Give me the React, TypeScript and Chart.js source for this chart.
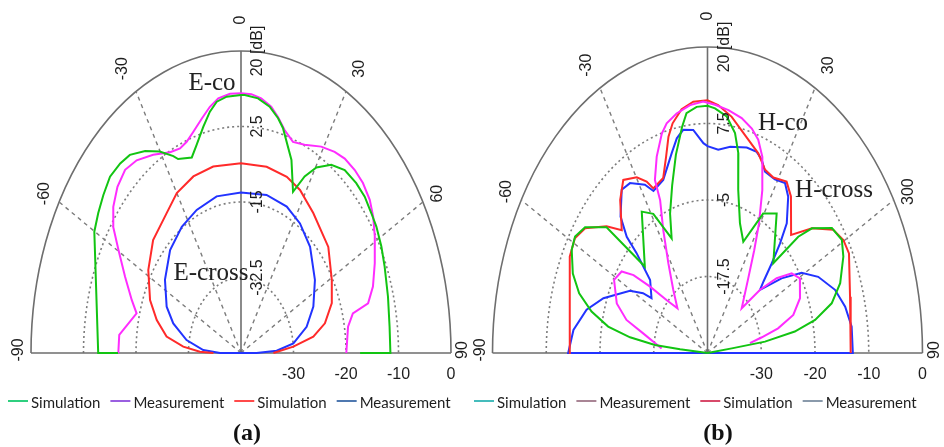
import React, { useEffect, useRef } from "react";
import { Chart, registerables } from "chart.js";

Chart.register(...registerables);

// ---------------- Panel (a): E-plane (angle in degrees, level in dB) ----------------
const aSimCoAngles = [-90, -90, -60.1, -55.7, -51.4, -46.9, -42.5, -38.9, -34.3, -30.1, -26.3, -25.0, -19.9, -17.0, -13.5, -10.5, -7.9, -4.6, 0, 1.2, 5.5, 9.5, 12.8, 15.0, 20.6, 24.9, 27.4, 30.3, 34.6, 39.2, 44.3, 48.7, 53.3, 57.0, 62.2, 67.3, 75.1, 83.0, 90, 90];
const aSimCoDb = [-9, -2.4, 6.4, 7.6, 8.7, 9.8, 9.6, 9.0, 6.7, 4.0, 0.9, -0.4, -1.8, 0.5, 3.9, 6.9, 8.8, 9.6, 9.8, 9.8, 9.3, 7.9, 5.8, 4.0, -2.2, -8.8, -3.9, -0.2, 3.0, 4.7, 5.0, 4.9, 4.2, 3.8, 2.9, 1.9, 0.7, -0.1, -0.2, -10.3];

const aMeasCoAngles = [-90, -84.1, -75.2, -71.4, -65.4, -59.7, -55.5, -51.5, -46.9, -42.3, -37.9, -32.5, -26.9, -23.2, -20.3, -17.2, -13.5, -10.3, -7.3, -3.5, 0, 3.3, 6.5, 10.0, 12.7, 15.7, 19.5, 23.7, 29.2, 33.8, 37.5, 41.8, 45.9, 50.4, 54.4, 58.9, 65.0, 70.7, 74.8, 76.2, 80.3, 90];
const aMeasCoDb = [-9.1, -9.2, -14.0, -11.6, -7.5, -2.7, 1.7, 4.4, 6.4, 7.4, 6.6, 4.5, 2.2, 1.6, 2.2, 3.7, 5.9, 8.0, 9.5, 10.2, 10.2, 10.1, 9.4, 8.0, 6.1, 3.7, 1.9, 2.7, 4.8, 6.1, 6.8, 6.9, 6.6, 5.7, 4.2, 2.1, -0.8, -3.4, -6.1, -11.6, -13.8, -14.9];

const aSimCrossAngles = [-90, -88.7, -85.6, -81.3, -74.8, -68.0, -58.1, -48.2, -37.4, -30.0, -21.2, -12.1, 0, 11.2, 20.5, 27.5, 36.6, 49.8, 60.7, 69.1, 76.2, 81.1, 85.2, 90];
const aSimCrossDb = [-40.8, -36.3, -30.7, -24.9, -20.9, -17.3, -13.6, -10.7, -9.2, -7.2, -6.1, -5.8, -6.0, -6.0, -6.4, -7.4, -9.6, -11.9, -15.3, -17.6, -21.2, -25.6, -32.5, -39.2];

const aMeasCrossAngles = [-90, -90, -86.9, -80.6, -73.1, -66.6, -56.2, -44.7, -34.0, -24.0, -12.6, 0, 13.1, 24.2, 33.2, 43.1, 55.5, 66.0, 74.5, 82.7, 87.4, 90, 90];
const aMeasCrossDb = [-50, -43, -37.4, -31.6, -26.4, -23.0, -19.5, -16.4, -14.7, -13.7, -12.8, -12.8, -12.4, -12.8, -14.1, -16.3, -20.1, -23.6, -27.3, -32.4, -38.1, -44.8, -50];

const aRadialMin = -50;
const aRingValues = [20, 2.5, -15, -32.5];
const aRingLabels = ["20 [dB]", "2.5", "-15", "-32.5"];
const aAngleTicks = [-90, -60, -30, 0, 30, 60, 90];
const aAngleLabels = ["-90", "-60", "-30", "0", "30", "60", "90"];

// ---------------- Panel (b): H-plane ----------------
const bSimCoAngles = [-90, -63.8, -58.7, -54.4, -48.6, -44.8, -39.1, -34.7, -29.8, -26.8, -25.1, -19.8, -16.7, -14.4, -12.2, -8.6, -4.6, 0, 3.5, 8.3, 15.3, 19.9, 24.1, 28.1, 33.3, 37.2, 45.2, 50.0, 55.4, 59.7, 63.7, 74.5, 90];
const bSimCoDb = [2.2, 5.7, 6.1, 5.0, 1.3, -1.7, 2.2, 4.4, 3.1, 1.4, -0.3, 0.4, 3.5, 6.5, 8.4, 10.3, 11.2, 11.3, 10.6, 9.0, 6.1, 4.7, 2.8, 2.5, 3.5, 2.1, -2.6, 1.7, 5.5, 6.6, 6.7, 4.4, 3.3];

const bMeasCoAngles = [-86.0, -77.9, -74.0, -69.0, -61.2, -56.3, -53.5, -50.9, -47.7, -43.8, -37.7, -31.9, -27.1, -23.8, -23.4, -20.2, -16.5, -14.2, -10.4, -5.7, -1.4, 2.5, 7.0, 11.7, 15.7, 18.7, 21.7, 25.6, 29.5, 32.9, 37.9, 47.4, 49.8, 52.8, 56.4, 60.4, 67.4, 72.7, 76.2, 78.5, 80.8];
const bMeasCoDb = [-19.3, -14.7, -10.4, -7.4, -5.2, -6.0, -8.6, -12.8, -17.2, -19.9, -17.0, -12.8, -7.4, -2.7, 0.8, 4.2, 7.4, 8.7, 9.8, 10.7, 11.1, 10.6, 10.0, 9.2, 8.1, 6.8, 4.5, -0.5, -5.7, -10.0, -14.6, -19.2, -14.0, -9.8, -6.5, -5.3, -6.7, -9.1, -13.1, -17.1, -20.0];

const bSimCrossAngles = [-90, -84.6, -83.9, -81.9, -79.4, -75.9, -71.9, -67.5, -61.9, -58.3, -54.2, -48.8, -45.9, -33.5, -29.0, -24.0, -20.9, -16.7, -12.8, -9.1, -7.1, -3.6, 0, 2.5, 6.6, 10.1, 12.4, 15.0, 19.6, 24.6, 29.6, 35.2, 46.2, 48.0, 50.0, 54.8, 59.4, 63.5, 69.7, 74.3, 77.8, 80.2, 82.1, 82.4, 90];
const bSimCrossDb = [-30, -23.6, -17.7, -11.8, -6.5, -2.2, 1.4, 3.9, 5.8, 6.2, 5.1, 1.2, -9.7, -2.3, -4.0, -9.5, -5.6, -1.4, 3.2, 7.4, 9.5, 10.3, 10.4, 10.0, 8.9, 6.5, 3.4, -2.4, -7.5, -10.0, -3.8, -2.1, -8.8, -1.6, 1.7, 5.4, 6.3, 5.3, 2.9, 0.0, -4.4, -9.4, -16.5, -24.3, -30];

const bMeasCrossAngles = [-90, -90, -83.1, -75.9, -69.7, -60.6, -56.9, -55.5, -48.2, -45.3, -44.7, -42.2, -36.8, -33.0, -27.9, -25.4, -20.0, -14.3, -11.5, -8.8, -5.2, -1.6, 0, 4.3, 8.9, 15.2, 19.2, 21.8, 24.3, 28.9, 33.0, 36.3, 41.0, 43.3, 45.6, 48.1, 49.8, 54.7, 59.1, 64.2, 70.8, 76.7, 82.7, 90, 90];
const bMeasCrossDb = [-30, 2.4, 1.4, -1.0, -4.2, -9.3, -12.1, -14.2, -12.1, -6.8, -3.3, 0.1, 3.3, 3.1, 1.1, -0.7, 0.1, 3.7, 5.8, 6.9, 6.6, 4.3, 3.8, 3.3, 4.1, 4.8, 4.8, 4.0, 2.5, 2.4, 3.1, 1.7, -1.9, -5.4, -9.1, -12.5, -14.0, -8.9, -4.5, -1.4, 1.4, 2.9, 3.8, 3.8, -30];

const bRadialMin = -30;
const bRingValues = [20, 7.5, -5, -17.5];
const bRingLabels = ["20 [dB]", "7.5", "-5", "-17.5"];
const bAngleTicks = [-90, -60, -30, 0, 30, 60, 90];
const bAngleLabels = ["-90", "-60", "-30", "0", "30", "300", "90"];

// ---------------- shared ----------------
const spokeAngles = [-60, -30, 30, 60];
const bottomTickLabels = ["-30", "-20", "-10", "0"];
const legendLabels = ["Simulation", "Measurement", "Simulation", "Measurement"];

type Series = { label: string; angles: number[]; values: number[]; color: string };
type Note = { text: string; x: number; y: number };
type Panel = {
  min: number;
  rings: number[];
  ringLabels: string[];
  angleTicks: number[];
  angleLabels: string[];
  series: Series[];
  legendColors: string[];
  legendX: number;
  title: string;
  titleX: number;
  notes: Note[];
  padding: { left: number; right: number; top: number; bottom: number };
};

const GREEN = "#12c412";
const MAGENTA = "#ff2cff";
const RED = "#ff2a2a";
const BLUE = "#2233ff";

const panelA: Panel = {
  min: aRadialMin,
  rings: aRingValues,
  ringLabels: aRingLabels,
  angleTicks: aAngleTicks,
  angleLabels: aAngleLabels,
  series: [
    { label: legendLabels[0], angles: aSimCoAngles, values: aSimCoDb, color: GREEN },
    { label: legendLabels[1], angles: aMeasCoAngles, values: aMeasCoDb, color: MAGENTA },
    { label: legendLabels[2], angles: aSimCrossAngles, values: aSimCrossDb, color: RED },
    { label: legendLabels[3], angles: aMeasCrossAngles, values: aMeasCrossDb, color: BLUE },
  ],
  legendColors: ["#2fcf7f", "#9a5fe0", "#ff4a4a", "#4f78b0"],
  legendX: 8,
  title: "(a)",
  titleX: 247,
  notes: [
    { text: "E-co", x: 212, y: 83 },
    { text: "E-cross", x: 211, y: 273 },
  ],
  padding: { left: 31, right: 493, top: 51, bottom: 94 },
};

const panelB: Panel = {
  min: bRadialMin,
  rings: bRingValues,
  ringLabels: bRingLabels,
  angleTicks: bAngleTicks,
  angleLabels: bAngleLabels,
  series: [
    { label: legendLabels[0], angles: bSimCrossAngles, values: bSimCrossDb, color: GREEN },
    { label: legendLabels[1], angles: bMeasCoAngles, values: bMeasCoDb, color: MAGENTA },
    { label: legendLabels[2], angles: bSimCoAngles, values: bSimCoDb, color: RED },
    { label: legendLabels[3], angles: bMeasCrossAngles, values: bMeasCrossDb, color: BLUE },
  ],
  legendColors: ["#45bcbc", "#a98595", "#d84a6a", "#8a9aab"],
  legendX: 474,
  title: "(b)",
  titleX: 718,
  notes: [
    { text: "H-co", x: 783, y: 123 },
    { text: "H-cross", x: 834, y: 190 },
  ],
  padding: { left: 492.5, right: 21.5, top: 47, bottom: 94 },
};

const SANS = "'Liberation Sans', Arial, sans-serif";
const SERIF = "'Liberation Serif', 'Times New Roman', serif";

function rotText(ctx: CanvasRenderingContext2D, text: string, x: number, y: number) {
  ctx.save();
  ctx.translate(x, y);
  ctx.rotate(-Math.PI / 2);
  ctx.textAlign = "center";
  ctx.textBaseline = "middle";
  ctx.fillText(text, 0, 0);
  ctx.restore();
}

function makePlugin(p: Panel) {
  const geom = (chart: any) => {
    const xs = chart.scales.x;
    const ys = chart.scales.y;
    const cx = xs.getPixelForValue(0);
    const cy = ys.getPixelForValue(0);
    const R = (v: number) => v - p.min;
    const rxOf = (v: number) => xs.getPixelForValue(R(v)) - cx;
    const ryOf = (v: number) => cy - ys.getPixelForValue(R(v));
    const at = (a: number, v: number) => {
      const t = (a * Math.PI) / 180;
      return [xs.getPixelForValue(R(v) * Math.sin(t)), ys.getPixelForValue(R(v) * Math.cos(t))];
    };
    return { cx, cy, rxOf, ryOf, at };
  };
  return {
    id: "polarDecor",
    beforeDatasetsDraw(chart: any) {
      const ctx: CanvasRenderingContext2D = chart.ctx;
      const { cx, cy, rxOf, ryOf, at } = geom(chart);
      const outer = p.rings[0];
      ctx.save();
      p.rings.forEach((v, i) => {
        ctx.beginPath();
        ctx.ellipse(cx, cy, rxOf(v), ryOf(v), 0, Math.PI, 2 * Math.PI);
        if (i === 0) {
          ctx.setLineDash([]);
          ctx.strokeStyle = "#6e6e6e";
          ctx.lineWidth = 1.6;
        } else {
          ctx.setLineDash([2, 3]);
          ctx.strokeStyle = "#7c7c7c";
          ctx.lineWidth = 1.6;
        }
        ctx.stroke();
      });
      ctx.setLineDash([4, 4]);
      ctx.strokeStyle = "#7c7c7c";
      ctx.lineWidth = 1.4;
      spokeAngles.forEach((a) => {
        const [px, py] = at(a, outer);
        ctx.beginPath();
        ctx.moveTo(cx, cy);
        ctx.lineTo(px, py);
        ctx.stroke();
      });
      ctx.setLineDash([]);
      ctx.strokeStyle = "#6e6e6e";
      ctx.lineWidth = 1.6;
      ctx.beginPath();
      ctx.moveTo(cx - rxOf(outer), cy);
      ctx.lineTo(cx + rxOf(outer), cy);
      ctx.moveTo(cx, cy);
      ctx.lineTo(cx, cy - ryOf(outer));
      ctx.stroke();
      ctx.restore();
    },
    afterDatasetsDraw(chart: any) {
      const ctx: CanvasRenderingContext2D = chart.ctx;
      const { cx, cy, rxOf, ryOf, at } = geom(chart);
      const outer = p.rings[0];
      ctx.save();
      ctx.fillStyle = "#1e1e1e";
      ctx.font = `16px ${SANS}`;
      // angle labels
      p.angleTicks.forEach((a, i) => {
        const t = (a * Math.PI) / 180;
        const [px, py] = at(a, outer);
        const c = Math.cos(t);
        const d = 12 + 19 * c * c;
        rotText(ctx, p.angleLabels[i], px + Math.sin(t) * d, py - c * d - (Math.abs(a) === 90 ? 3 : 0));
      });
      // ring labels along the vertical axis
      p.rings.forEach((v, i) => {
        rotText(ctx, p.ringLabels[i], cx + 17, cy - ryOf(v));
      });
      // bottom labels
      ctx.textAlign = "center";
      ctx.textBaseline = "middle";
      bottomTickLabels.forEach((s, i) => {
        const v = p.rings[p.rings.length - 1 - i];
        ctx.fillText(s, cx + rxOf(v), cy + 22);
      });
      // notes
      ctx.font = `25px ${SERIF}`;
      ctx.fillStyle = "#222";
      p.notes.forEach((n) => ctx.fillText(n.text, n.x, n.y));
      // legend
      ctx.font = `15px Lato, ${SANS}`;
      ctx.textAlign = "left";
      let lx = p.legendX;
      const ly = 403;
      p.series.forEach((s, i) => {
        ctx.strokeStyle = p.legendColors[i];
        ctx.lineWidth = 2;
        ctx.beginPath();
        ctx.moveTo(lx, ly - 2);
        ctx.lineTo(lx + 20, ly - 2);
        ctx.stroke();
        ctx.fillStyle = "#1e1e1e";
        ctx.fillText(s.label, lx + 23, ly);
        lx += 23 + ctx.measureText(s.label).width + 10;
      });
      // panel title
      ctx.font = `bold 24px ${SERIF}`;
      ctx.textAlign = "center";
      ctx.fillStyle = "#111";
      ctx.fillText(p.title, p.titleX, 434);
      ctx.restore();
    },
  };
}

function PolarPanel({ panel }: { panel: Panel }) {
  const ref = useRef<HTMLCanvasElement | null>(null);
  useEffect(() => {
    if (!ref.current) return;
    const span = panel.rings[0] - panel.min;
    const chart = new Chart(ref.current, {
      type: "scatter",
      data: {
        datasets: panel.series.map((s) => ({
          label: s.label,
          data: s.angles.map((a, i) => {
            const t = (a * Math.PI) / 180;
            const r = s.values[i] - panel.min;
            return { x: r * Math.sin(t), y: r * Math.cos(t) };
          }),
          showLine: true,
          borderColor: s.color,
          backgroundColor: s.color,
          borderWidth: 2,
          pointRadius: 0,
          pointHoverRadius: 0,
          tension: 0,
          fill: false,
          clip: false as any,
        })),
      },
      options: {
        animation: false,
        responsive: false,
        devicePixelRatio: 1,
        events: [],
        layout: { padding: panel.padding },
        scales: {
          x: { type: "linear", min: -span, max: span, display: false },
          y: { type: "linear", min: 0, max: span, display: false },
        },
        plugins: { legend: { display: false }, title: { display: false }, tooltip: { enabled: false } },
      },
      plugins: [makePlugin(panel)],
    });
    return () => chart.destroy();
  }, [panel]);
  return (
    <canvas
      ref={ref}
      width={944}
      height={447}
      style={{ position: "absolute", left: 0, top: 0, width: 944, height: 447 }}
    />
  );
}

export default function App() {
  return (
    <div style={{ position: "absolute", left: 0, top: 0, width: 944, height: 447, background: "#fff", overflow: "hidden" }}>
      <PolarPanel panel={panelA} />
      <PolarPanel panel={panelB} />
    </div>
  );
}
